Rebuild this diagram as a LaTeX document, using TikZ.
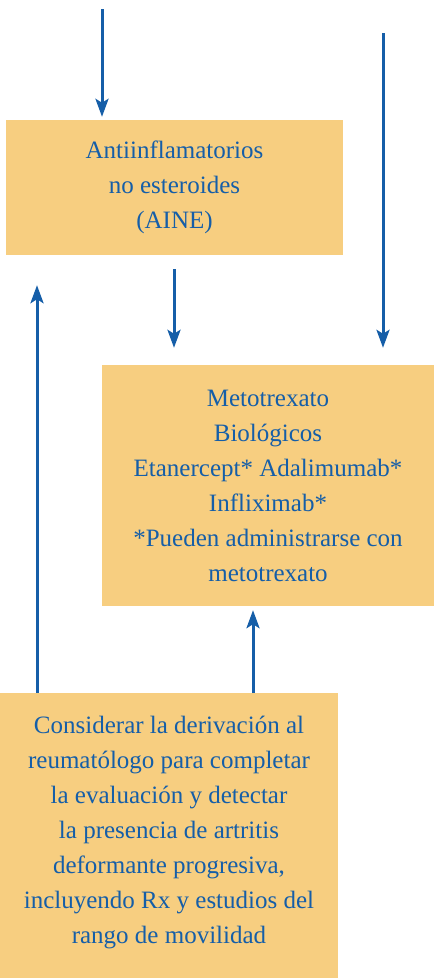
\documentclass[tikz,border=0pt]{standalone}
\usepackage{fontspec}
\setmainfont{Liberation Serif}
\usetikzlibrary{arrows.meta, positioning}
\definecolor{boxfill}{RGB}{247,206,128}
\definecolor{arrowblue}{RGB}{21,94,168}
\begin{document}
\begin{tikzpicture} [x = 1bp, y = -1bp,
  box/.style = {fill = boxfill, text = arrowblue, align = center, inner sep = 0pt,
    font = \fontsize{25bp}{35bp}\selectfont},
  link/.style = {draw = arrowblue, line width = 3bp, -{Stealth[length = 18bp, width = 13bp, inset = 4bp]}}]
\useasboundingbox (0,0) rectangle (434,978);
\node[box, minimum width = 337bp, minimum height = 135bp] (aine) at (174.5,187.5) {Antiinflamatorios\\ no esteroides\\ (AINE)};
\node[box, minimum width = 332bp, minimum height = 241bp] (meto) at (268,485.5) {Metotrexato\\ Biológicos\\ Etanercept* Adalimumab*\\ Infliximab*\\ *Pueden administrarse con\\ metotrexato};
\node[box, minimum width = 338bp, minimum height = 285bp] (deriv) at (169,835.5) {Considerar la derivación al\\ reumatólogo para completar\\ la evaluación y detectar\\ la presencia de artritis\\ deformante progresiva,\\ incluyendo Rx y estudios del\\ rango de movilidad\\[-24bp]};
\coordinate (in1) at (102,9);
\coordinate (in2) at (383,33);
\draw[link, shorten >= 3bp] (in1) -- (in1 |- aine.north);
\draw[link, shorten >= 17bp] (in2) -- (in2 |- meto.north);
\draw[link, shorten <= 14bp, shorten >= 17bp] (174,255) coordinate (a3) -- (a3 |- meto.north);
\draw[link, shorten >= 30bp] (37,693) coordinate (a4) -- (a4 |- aine.south);
\draw[link, shorten >= 4bp] (253,693) coordinate (a5) -- (a5 |- meto.south);
\end{tikzpicture}
\end{document}
